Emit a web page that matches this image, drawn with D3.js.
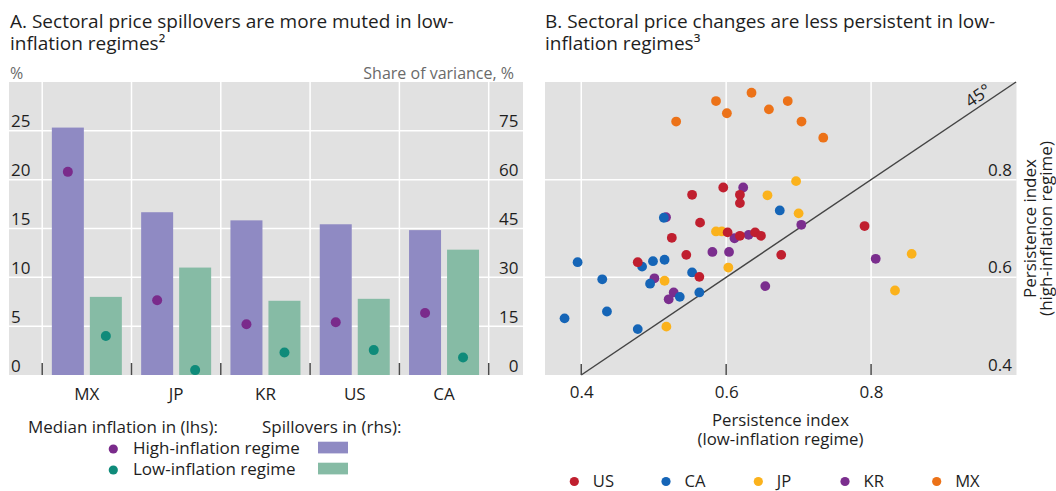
<!DOCTYPE html>
<html>
<head>
<meta charset="utf-8">
<script src="https://cdn.jsdelivr.net/npm/d3@7"></script>
<style>
  html, body { margin: 0; padding: 0; background: #fff; }
  svg { display: block; font-family: "Open Sans", sans-serif; }
</style>
</head>
<body>
<svg id="chart" width="1056" height="491"></svg>
<script>
// ---------- Panel A data ----------
const categories = ["MX", "JP", "KR", "US", "CA"];
const spillHigh = [76, 50, 47.5, 46.3, 44.5];     // rhs, share of variance %
const spillLow  = [24, 33, 22.8, 23.4, 38.5];     // rhs
const inflHigh  = [20.8, 7.65, 5.2, 5.4, 6.35];   // lhs, %
const inflLow   = [4.0, 0.5, 2.3, 2.55, 1.8];     // lhs
const lhsTicks = [0, 5, 10, 15, 20, 25];
const rhsTicks = [0, 15, 30, 45, 60, 75];

// ---------- Panel B data ([low-inflation, high-inflation]) ----------
const usPts = [[0.553,0.769],[0.596,0.784],[0.619,0.769],[0.619,0.752],[0.564,0.712],[0.525,0.681],[0.602,0.692],[0.619,0.685],[0.640,0.692],[0.648,0.685],[0.545,0.646],[0.676,0.646],[0.478,0.631],[0.563,0.601],[0.791,0.705]];
const caPts = [[0.514,0.722],[0.674,0.737],[0.395,0.631],[0.484,0.622],[0.499,0.633],[0.515,0.636],[0.429,0.596],[0.553,0.610],[0.495,0.587],[0.536,0.560],[0.563,0.569],[0.4355,0.530],[0.377,0.516],[0.478,0.494]];
const jpPts = [[0.6965,0.797],[0.657,0.768],[0.700,0.731],[0.586,0.694],[0.594,0.694],[0.603,0.620],[0.515,0.593],[0.856,0.648],[0.833,0.573],[0.5175,0.499]];
const krPts = [[0.6235,0.784],[0.517,0.723],[0.6115,0.680],[0.631,0.687],[0.581,0.652],[0.604,0.652],[0.501,0.598],[0.5276,0.569],[0.5207,0.555],[0.654,0.582],[0.7037,0.7076],[0.8064,0.638]];
const mxPts = [[0.531,0.919],[0.586,0.961],[0.601,0.936],[0.635,0.978],[0.659,0.944],[0.685,0.961],[0.704,0.919],[0.734,0.886]];
const scatterTicksX = [0.4, 0.6, 0.8];
const scatterTicksY = [0.4, 0.6, 0.8];
const seriesNames = ["US", "CA", "JP", "KR", "MX"];

// ---------- Styles ----------
const BG = "#e1e1e1", GRID = "#ffffff", TXT = "#1e1e1e", GRAY = "#6a6a6a", TICK = "#4a4a4a";
const C_BAR_HIGH = "#8f8ac3", C_BAR_LOW = "#86bba5";
const C_DOT_HIGH = "#7a2b8b", C_DOT_LOW = "#0f8b7a";
const seriesColors = { US: "#c01f2f", CA: "#1565b7", JP: "#fbb21c", KR: "#7b2e8e", MX: "#ec7218" };

const svg = d3.select("#chart");
svg.append("rect").attr("width", 1056).attr("height", 491).attr("fill", "#fff");

// ================= PANEL A =================
const A = { x0: 9, x1: 523, y0: 82, y1: 375 };
const yL = d3.scaleLinear().domain([0, 30]).range([A.y1, A.y0]);
const yR = d3.scaleLinear().domain([0, 90]).range([A.y1, A.y0]);
const xBand = d3.scaleBand().domain(categories).range([42.2, 488.7]);
const xSub = d3.scaleBand().domain(["high", "low"]).range([0, xBand.bandwidth()])
  .paddingInner(0.158).paddingOuter(0.254);

const gA = svg.append("g");
gA.append("rect").attr("x", A.x0).attr("y", A.y0).attr("width", A.x1 - A.x0).attr("height", A.y1 - A.y0).attr("fill", BG);

// horizontal gridlines
gA.selectAll("line.hg").data(lhsTicks.filter(d => d > 0)).enter().append("line")
  .attr("x1", A.x0).attr("x2", A.x1).attr("y1", d => yL(d)).attr("y2", d => yL(d))
  .attr("stroke", GRID).attr("stroke-width", 1.5);
// vertical gridlines at category boundaries
const boundaries = categories.map(c => xBand(c)).concat([xBand.range()[1]]);
gA.selectAll("line.vg").data(boundaries).enter().append("line")
  .attr("x1", d => d).attr("x2", d => d).attr("y1", A.y0).attr("y2", A.y1)
  .attr("stroke", GRID).attr("stroke-width", 1.5);

// bars
const barData = categories.map((c, i) => ({ c, high: spillHigh[i], low: spillLow[i], ih: inflHigh[i], il: inflLow[i] }));
gA.selectAll("rect.bh").data(barData).enter().append("rect")
  .attr("x", d => xBand(d.c) + xSub("high")).attr("width", xSub.bandwidth())
  .attr("y", d => yR(d.high)).attr("height", d => yR(0) - yR(d.high)).attr("fill", C_BAR_HIGH);
gA.selectAll("rect.bl").data(barData).enter().append("rect")
  .attr("x", d => xBand(d.c) + xSub("low")).attr("width", xSub.bandwidth())
  .attr("y", d => yR(d.low)).attr("height", d => yR(0) - yR(d.low)).attr("fill", C_BAR_LOW);
// dots
gA.selectAll("circle.dh").data(barData).enter().append("circle")
  .attr("cx", d => xBand(d.c) + xSub("high") + xSub.bandwidth() / 2).attr("cy", d => yL(d.ih))
  .attr("r", 5).attr("fill", C_DOT_HIGH);
gA.selectAll("circle.dl").data(barData).enter().append("circle")
  .attr("cx", d => xBand(d.c) + xSub("low") + xSub.bandwidth() / 2).attr("cy", d => yL(d.il))
  .attr("r", 5).attr("fill", C_DOT_LOW);

// bottom tick marks
gA.selectAll("line.tk").data(boundaries).enter().append("line")
  .attr("x1", d => d).attr("x2", d => d).attr("y1", A.y1 - 12).attr("y2", A.y1)
  .attr("stroke", TICK).attr("stroke-width", 1.5);

// left axis labels (inside plot)
const axL = gA.append("g").attr("transform", `translate(11,0)`)
  .call(d3.axisRight(yL).tickValues(lhsTicks).tickSize(0).tickPadding(0));
axL.select(".domain").remove();
axL.selectAll("text").attr("dy", -4).attr("font-size", 17).attr("fill", TXT).attr("font-family", "Open Sans");
// right axis labels
const axR = gA.append("g").attr("transform", `translate(518.5,0)`)
  .call(d3.axisLeft(yR).tickValues(rhsTicks).tickSize(0).tickPadding(0));
axR.select(".domain").remove();
axR.selectAll("text").attr("dy", -4).attr("font-size", 17).attr("fill", TXT).attr("font-family", "Open Sans");
// category axis
const axX = gA.append("g").attr("transform", `translate(0,${A.y1})`)
  .call(d3.axisBottom(xBand).tickSize(0).tickPadding(0));
axX.select(".domain").remove();
axX.selectAll("text").attr("y", 25).attr("dy", 0).attr("font-size", 17).attr("fill", TXT).attr("font-family", "Open Sans");

// titles
const tA = svg.append("text").attr("font-size", 19).attr("fill", TXT);
tA.append("tspan").attr("x", 10).attr("y", 28.3).text("A. Sectoral price spillovers are more muted in low-");
tA.append("tspan").attr("x", 10).attr("y", 50.4).text("inflation regimes\u00B2");
svg.append("text").attr("x", 10).attr("y", 78.5).attr("font-size", 16).attr("fill", GRAY).text("%");
svg.append("text").attr("x", 514).attr("y", 78.5).attr("text-anchor", "end").attr("font-size", 16).attr("fill", GRAY).text("Share of variance, %");

// legend A
svg.append("text").attr("x", 28).attr("y", 433).attr("font-size", 17).attr("fill", TXT).text("Median inflation in (lhs):");
svg.append("text").attr("x", 262).attr("y", 433).attr("font-size", 17).attr("fill", TXT).text("Spillovers in (rhs):");
const legA = [
  { label: "High-inflation regime", dot: C_DOT_HIGH, bar: C_BAR_HIGH, y: 454 },
  { label: "Low-inflation regime", dot: C_DOT_LOW, bar: C_BAR_LOW, y: 475 }
];
legA.forEach(d => {
  svg.append("circle").attr("cx", 113.3).attr("cy", d.y - 5).attr("r", 4.6).attr("fill", d.dot);
  svg.append("text").attr("x", 133).attr("y", d.y).attr("font-size", 17).attr("fill", TXT).text(d.label);
  svg.append("rect").attr("x", 318).attr("y", d.y - 12.3).attr("width", 30).attr("height", 11.7).attr("fill", d.bar);
});

// ================= PANEL B =================
const B = { x0: 545, x1: 1016.5, y0: 82, y1: 375 };
const xS = d3.scaleLinear().domain([0.35, 1.0]).range([545, 1016]);
const yS = d3.scaleLinear().domain([0.4, 1.0]).range([B.y1, B.y0]);
const gB = svg.append("g");
gB.append("rect").attr("x", B.x0).attr("y", B.y0).attr("width", B.x1 - B.x0).attr("height", B.y1 - B.y0).attr("fill", BG);
gB.selectAll("line.vg").data(scatterTicksX).enter().append("line")
  .attr("x1", d => xS(d)).attr("x2", d => xS(d)).attr("y1", B.y0).attr("y2", B.y1)
  .attr("stroke", GRID).attr("stroke-width", 1.5);
gB.selectAll("line.hg").data(scatterTicksY.filter(d => d > 0.4)).enter().append("line")
  .attr("x1", B.x0).attr("x2", B.x1).attr("y1", d => yS(d)).attr("y2", d => yS(d))
  .attr("stroke", GRID).attr("stroke-width", 1.5);

// 45 degree line
gB.append("line").attr("x1", xS(0.4)).attr("y1", yS(0.4)).attr("x2", xS(1.0)).attr("y2", yS(1.0))
  .attr("stroke", "#444").attr("stroke-width", 1.5);
const ang = Math.atan2(yS(0.4) - yS(1.0), xS(1.0) - xS(0.4)) * 180 / Math.PI;
gB.append("text").attr("transform", `translate(${xS(0.952)},${yS(0.952) - 5}) rotate(${-ang})`)
  .attr("text-anchor", "middle").attr("font-size", 17).attr("fill", TXT).text("45°");

// points
const seriesData = { US: usPts, CA: caPts, JP: jpPts, KR: krPts, MX: mxPts };
["MX", "KR", "JP", "CA", "US"].forEach(name => {
  gB.append("g").selectAll("circle").data(seriesData[name]).enter().append("circle")
    .attr("cx", d => xS(d[0])).attr("cy", d => yS(d[1])).attr("r", 4.9).attr("fill", seriesColors[name]);
});

// x ticks
gB.selectAll("line.tk").data(scatterTicksX).enter().append("line")
  .attr("x1", d => xS(d)).attr("x2", d => xS(d)).attr("y1", B.y1 - 11).attr("y2", B.y1)
  .attr("stroke", TICK).attr("stroke-width", 1.5);
const axBX = gB.append("g").attr("transform", `translate(0,${B.y1})`)
  .call(d3.axisBottom(xS).tickValues(scatterTicksX).tickFormat(d3.format(".1f")).tickSize(0).tickPadding(0));
axBX.select(".domain").remove();
axBX.selectAll("text").attr("y", 23.3).attr("dy", 0).attr("font-size", 17).attr("fill", TXT).attr("font-family", "Open Sans");
const axBY = gB.append("g").attr("transform", `translate(1012,0)`)
  .call(d3.axisLeft(yS).tickValues(scatterTicksY).tickFormat(d3.format(".1f")).tickSize(0).tickPadding(0));
axBY.select(".domain").remove();
axBY.selectAll("text").attr("dy", -4.5).attr("font-size", 17).attr("fill", TXT).attr("font-family", "Open Sans");

// axis titles
svg.append("text").attr("x", 780.5).attr("y", 426).attr("text-anchor", "middle").attr("font-size", 16.8).attr("fill", TXT).text("Persistence index");
svg.append("text").attr("x", 780.5).attr("y", 445.3).attr("text-anchor", "middle").attr("font-size", 16.8).attr("fill", TXT).text("(low-inflation regime)");
svg.append("text").attr("transform", `translate(1035.5,228.5) rotate(-90)`).attr("text-anchor", "middle")
  .attr("font-size", 17).attr("fill", TXT).text("Persistence index");
svg.append("text").attr("transform", `translate(1052,228.5) rotate(-90)`).attr("text-anchor", "middle")
  .attr("font-size", 17).attr("fill", TXT).text("(high-inflation regime)");

// title B
const tB = svg.append("text").attr("font-size", 19).attr("fill", TXT);
tB.append("tspan").attr("x", 545).attr("y", 28.3).text("B. Sectoral price changes are less persistent in low-");
tB.append("tspan").attr("x", 545).attr("y", 50.4).text("inflation regimes\u00B3");

// legend B
const legX = [574.3, 666, 758.3, 845, 936.7];
seriesNames.forEach((name, i) => {
  svg.append("circle").attr("cx", legX[i]).attr("cy", 481.5).attr("r", 4.6).attr("fill", seriesColors[name]);
  svg.append("text").attr("x", legX[i] + 18.5).attr("y", 486.8).attr("font-size", 16.6).attr("fill", TXT).text(name);
});
</script>
</body>
</html>
